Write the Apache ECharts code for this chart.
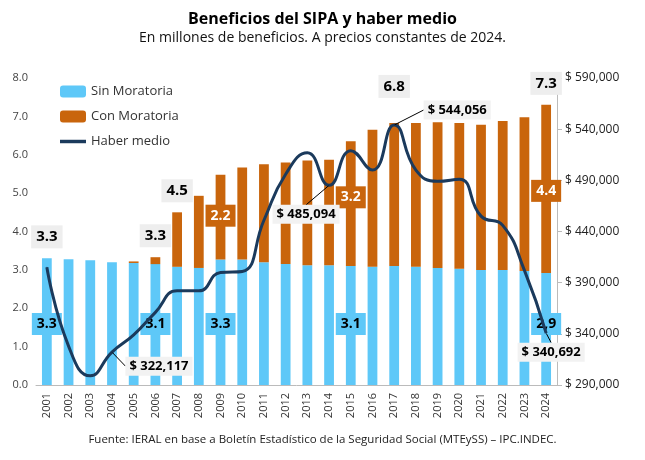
<!DOCTYPE html>
<html><head><meta charset="utf-8">
<script src="https://cdn.jsdelivr.net/npm/echarts@6/dist/echarts.min.js"></script>
<style>body{margin:0}#main{width:645px;height:460px}</style></head>
<body><div id="main"></div>
<script>
var years = ['2001','2002','2003','2004','2005','2006','2007','2008','2009','2010','2011','2012','2013','2014','2015','2016','2017','2018','2019','2020','2021','2022','2023','2024'];
var sinMoratoria = [3.3,3.28,3.25,3.2,3.18,3.15,3.08,3.05,3.27,3.27,3.2,3.15,3.12,3.12,3.1,3.08,3.1,3.08,3.05,3.03,3.0,3.0,2.97,2.92];
var totalBeneficios = [3.3,3.28,3.25,3.2,3.22,3.33,4.5,4.93,5.48,5.67,5.75,5.8,5.85,5.87,6.35,6.65,6.83,6.83,6.85,6.83,6.78,6.88,6.98,7.3];
var haberMedio = [405000,328000,299000,322117,339000,361000,382000,382000,400000,401000,451000,496000,517000,485094,519000,500000,544056,500000,489000,491000,455000,446000,402000,340692];
var totalLabels = {0:'3.3',5:'3.3',6:'4.5',16:'6.8',23:'7.3'};
var conLabels = {8:'2.2',14:'3.2',23:'4.4'};
var sinLabels = {0:'3.3',5:'3.1',8:'3.3',14:'3.1',23:'2,9'};
var haberLabels = {3:[47,14],13:[-23,29],16:[63,-15],23:[5,19]};

var conMoratoria = totalBeneficios.map(function (t, i) { return +(t - sinMoratoria[i]).toFixed(2); });
var box = {fontWeight:'bold',fontSize:14,color:'#000',padding:[4,5]};
var totalDist = {0:10,5:10,6:10,16:25,23:10};
var conDist = {8:30,14:45,23:75};

var myChart = echarts.init(document.getElementById('main'));
var option = {
  textStyle:{fontFamily:'Open Sans'},
  title:{text:'Beneficios del SIPA y haber medio',subtext:'En millones de beneficios. A precios constantes de 2024.',left:'center',top:6,itemGap:4,
    textStyle:{fontSize:16,fontWeight:'bold',color:'#000'},subtextStyle:{fontSize:14,color:'#111'}},
  graphic:[{type:'text',left:'center',top:434,style:{text:'Fuente: IERAL en base a Boletín Estadístico de la Seguridad Social (MTEySS) – IPC.INDEC.',fontSize:11.5,fill:'#222',fontFamily:'Open Sans'}}],
  legend:{orient:'vertical',left:55,top:80,itemGap:12,itemWidth:26,itemHeight:12,textStyle:{fontSize:13,color:'#333'},
    data:['Sin Moratoria','Con Moratoria',{name:'Haber medio',icon:'path://M0,0H30V4H0Z'}]},
  grid:{left:36,right:88,top:78,bottom:75},
  xAxis:{type:'category',data:years,axisTick:{show:false},axisLine:{lineStyle:{color:'#bbb'}},
    axisLabel:{rotate:90,color:'#333',fontSize:11}},
  yAxis:[
    {type:'value',min:0,max:8,interval:1,splitLine:{show:false},axisLabel:{formatter:function(v){return v.toFixed(1);},color:'#444',fontSize:11}},
    {type:'value',min:290000,max:590000,interval:50000,splitLine:{show:false},axisLine:{show:true,lineStyle:{color:'#bbb'}},axisTick:{show:true},
      axisLabel:{formatter:function(v){return '$ '+v.toLocaleString('en-US');},color:'#222',fontSize:12}}
  ],
  series:[
    {name:'Sin Moratoria',type:'bar',stack:'b',barWidth:'45%',itemStyle:{color:'#5ec8f8'},
      data:sinMoratoria.map(function(v,i){var d={value:v};
        if(sinLabels[i]) d.label=Object.assign({show:true,position:'insideBottom',distance:50,formatter:sinLabels[i],backgroundColor:'#5ec8f8'},box);
        return d;})},
    {name:'Con Moratoria',type:'bar',stack:'b',itemStyle:{color:'#c9650c'},
      data:conMoratoria.map(function(v,i){var d={value:v};
        if(conLabels[i]) d.label=Object.assign({show:true,position:'insideTop',distance:conDist[i],formatter:conLabels[i],backgroundColor:'#c9650c'},box,{color:'#fff'});
        return d;})},
    {name:'total',type:'bar',stack:'b',data:totalBeneficios.map(function(v,i){
        var d={value:0};
        if(totalLabels[i]) d.label=Object.assign({show:true,position:'top',distance:totalDist[i],formatter:totalLabels[i],backgroundColor:'#eeeeee'},box,{fontSize:15});
        return d;}),itemStyle:{color:'transparent'},tooltip:{show:false}},
    {name:'Haber medio',type:'line',yAxisIndex:1,smooth:true,symbol:'circle',symbolSize:1,lineStyle:{color:'#1b3a5c',width:3},itemStyle:{color:'#1b3a5c'},
      data:haberMedio.map(function(v,i){var d={value:v};
        if(haberLabels[i]) d.label={show:true,formatter:'$ '+v.toLocaleString('en-US'),backgroundColor:'#f2f2f2',color:'#000',fontWeight:'bold',fontSize:13,padding:[3,4],
          position:'inside'};
        return d;}),
      labelLayout:function(p){var o=haberLabels[p.dataIndex];return o?{dx:o[0],dy:o[1]}:{};},
      labelLine:{show:true,lineStyle:{color:'#000',width:1}}}
  ]
};
myChart.setOption(option);
</script></body></html>
